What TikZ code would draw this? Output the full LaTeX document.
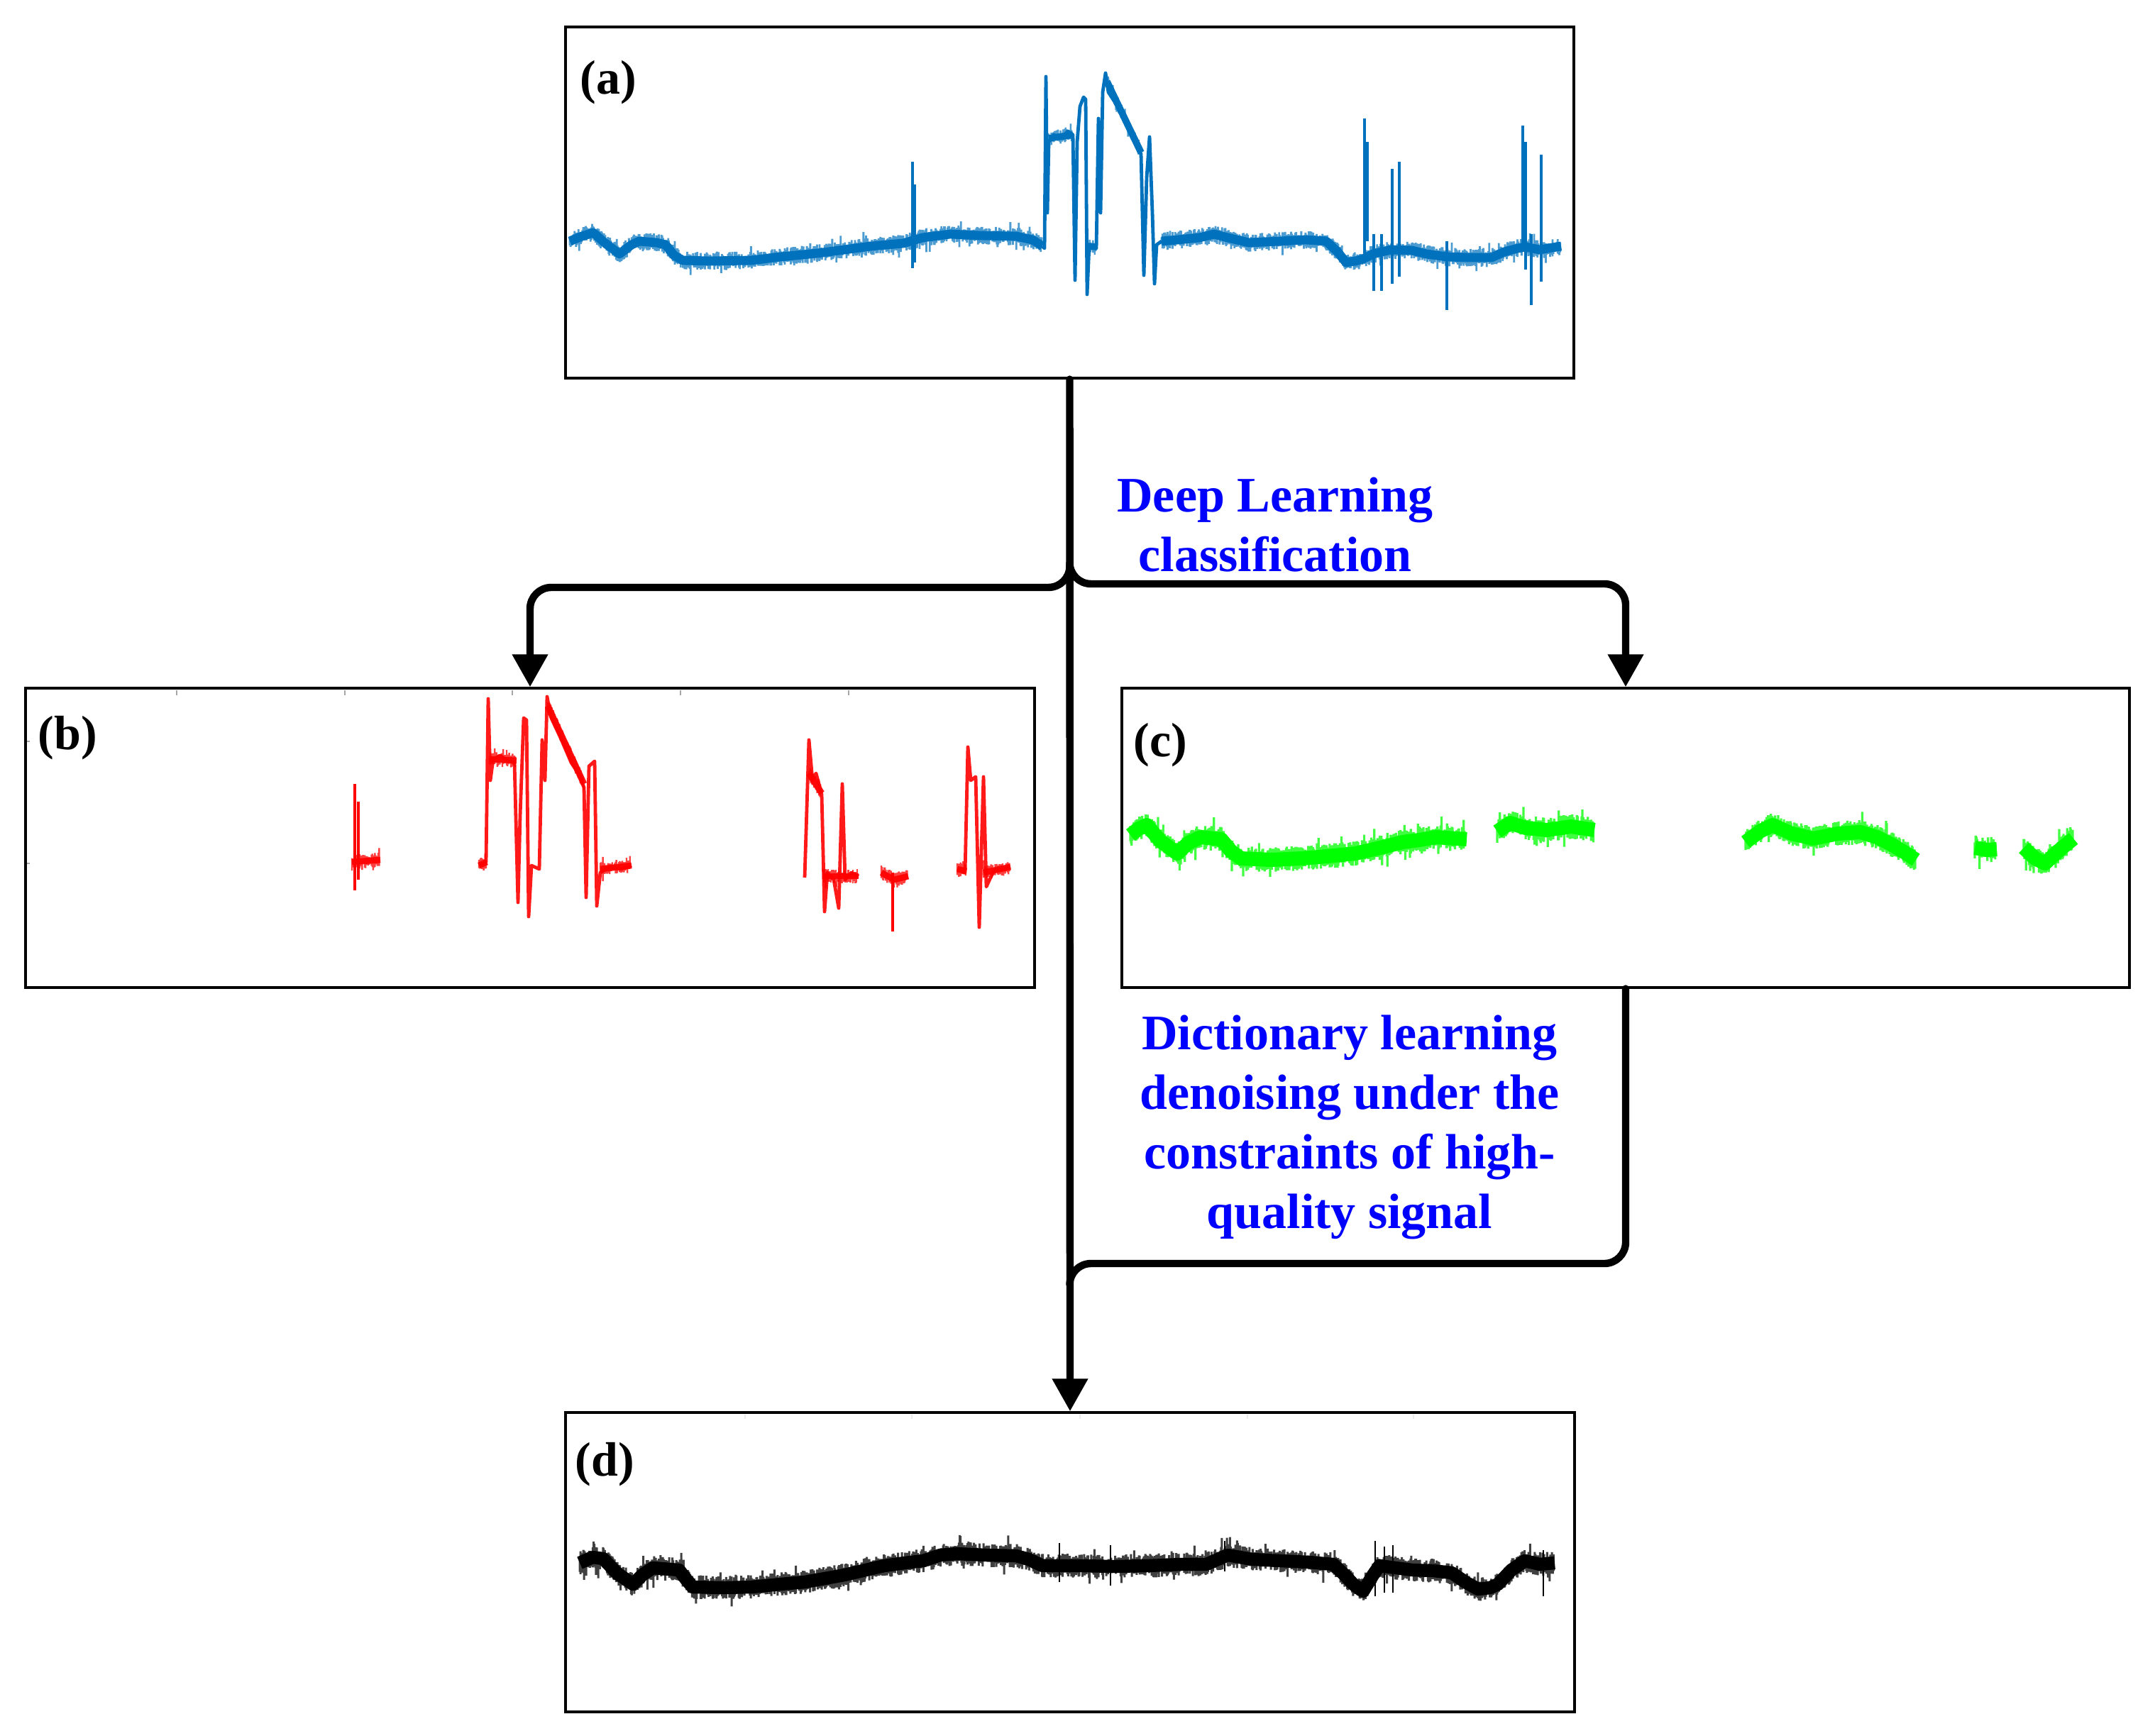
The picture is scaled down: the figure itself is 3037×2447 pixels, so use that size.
\documentclass[tikz,border=0pt]{standalone}
\usepackage{fontspec}
\setmainfont{Liberation Serif}
\usetikzlibrary{arrows.meta,decorations.pathmorphing,calc}
\definecolor{mblue}{RGB}{0,114,189}
\definecolor{lblue}{RGB}{0,0,255}
\definecolor{tgreen}{RGB}{0,255,0}
\definecolor{tred}{RGB}{255,0,0}
\pgfdeclaredecoration{fuzz}{initial}{
  \state{initial}[width=\pgfdecorationsegmentlength]{
    \pgfmathsetlengthmacro\fuzza{\pgfdecorationsegmentamplitude*(0.2+0.8*rnd+0.7*(rnd>0.97))}
    \pgfmathsetlengthmacro\fuzzb{\pgfdecorationsegmentamplitude*(0.2+0.8*rnd+0.7*(rnd>0.97))}
    \pgfmathsetmacro\fuzzs{sin(\pgfdecoratedangle)}
    \pgfmathsetmacro\fuzzc{cos(\pgfdecoratedangle)}
    \pgfpathmoveto{\pgfpoint{\fuzzs*\fuzza}{\fuzzc*\fuzza}}
    \pgfpathlineto{\pgfpoint{-\fuzzs*\fuzzb}{-\fuzzc*\fuzzb}}
  }
  \state{final}{}
}
\begin{document}
\begin{tikzpicture}[x=0.25pt,y=-0.25pt,
  panel/.style={draw=black, line width=0.8pt, inner sep=0pt, minimum height=105.5pt},
  conn/.style={line width=2.6pt, line cap=round, rounded corners=7.5pt},
  arr/.style={-{Triangle[width=12pt,length=11.5pt]}},
  txt/.style={font=\fontsize{17.5}{21}\selectfont\bfseries, text=lblue, align=center, inner sep=0pt},
  plbl/.style={font=\fontsize{17}{20}\selectfont\bfseries, inner sep=0pt, anchor=base west},
  fzA/.style={decorate, decoration={fuzz, segment length=0.3pt, amplitude=3.2pt}},
  fzG/.style={decorate, decoration={fuzz, segment length=0.28pt, amplitude=4.4pt}},
  fzD/.style={decorate, decoration={fuzz, segment length=0.28pt, amplitude=4.2pt}},
  fzR/.style={decorate, decoration={fuzz, segment length=0.3pt, amplitude=2.6pt}},
  spike/.style={line width=0.8pt}
]
\pgfmathsetseed{4242}
\useasboundingbox (0,0) rectangle (3037,2447);

% ---------- trace (a) ----------
\def\aone{(803,340) -- (820,333) -- (836,328) -- (852,342) -- (873,358) -- (890,345) -- (901,340) -- (925,342) -- (938,345) -- (950,360) -- (962,367) -- (1000,368) -- (1059,367) -- (1100,362) -- (1152,357) -- (1190,352) -- (1227,347) -- (1273,343) -- (1300,335) -- (1339,330) -- (1380,332) -- (1432,333) -- (1455,338) -- (1469,347)}
\def\atwo{(1637,340) -- (1660,338) -- (1690,335) -- (1711,330) -- (1730,335) -- (1760,342) -- (1804,340) -- (1840,338) -- (1869,340) -- (1885,355) -- (1897,370) -- (1910,368) -- (1921,365) -- (1935,358) -- (1960,352) -- (1990,353) -- (2010,358) -- (2039,362) -- (2070,363) -- (2102,363) -- (2120,355) -- (2139,350) -- (2150,348) -- (2170,352) -- (2200,347)}
\foreach \p in {\aone,\atwo}{
  \draw[mblue, line width=3.2pt, line join=round] \p;
  \draw[mblue, line width=0.7pt, opacity=0.7, fzA] \p;
}
\draw[mblue, line width=1.2pt, line join=round] (1469,347) -- (1472,350) -- (1474,108) -- (1476,300) -- (1478,200) -- (1485,190) -- (1495,195) -- (1505,185) -- (1512,190) -- (1515,395) -- (1518,200) -- (1522,150) -- (1527,137) -- (1530,140) -- (1532,415) -- (1535,345) -- (1545,350) -- (1548,167) -- (1551,300) -- (1554,130) -- (1558,103) -- (1562,130) -- (1575,150) -- (1590,180) -- (1600,203) -- (1608,217) -- (1612,388) -- (1616,250) -- (1620,193) -- (1624,300) -- (1627,400) -- (1630,345) -- (1637,340);
\foreach \p in {{(1478,195) -- (1512,190)}, {(1560,115) -- (1608,215)}, {(1532,347) -- (1546,348)}}{
  \draw[mblue, line width=2.4pt] \p;
  \draw[mblue, line width=0.6pt, opacity=0.7, fzR] \p;
}
\foreach \x/\ya/\yb in {1286/228/378, 1289/260/370, 1923/167/360, 1927/200/340, 1936/330/410, 1947/330/410, 1962/238/400, 1972/228/390, 2039/340/437, 2146/177/355, 2150/200/380, 2158/330/430, 2172/218/397}
  \draw[mblue, spike] (\x,\ya) -- (\x,\yb);

% ---------- trace (b) ----------
\draw[tred, line width=1.2pt, line join=round, opacity=0.9] (675,1220) -- (685,1215) -- (688,985) -- (691,1100) -- (695,1070) -- (705,1065) -- (715,1072) -- (725,1075) -- (730,1272) -- (733,1150) -- (738,1012) -- (742,1015) -- (745,1292) -- (749,1220) -- (760,1225) -- (764,1043) -- (768,1100) -- (771,982) -- (776,1010) -- (790,1040) -- (805,1075) -- (815,1090) -- (823,1110) -- (826,1265) -- (830,1080) -- (838,1073) -- (841,1277) -- (846,1230) -- (860,1222) -- (875,1225) -- (890,1220);
\draw[tred, line width=1.2pt, line join=round, opacity=0.9] (1134,1237) -- (1140,1043) -- (1145,1100) -- (1150,1090) -- (1158,1120) -- (1162,1285) -- (1166,1230) -- (1175,1240) -- (1182,1280) -- (1187,1105) -- (1191,1240) -- (1200,1230) -- (1210,1235);
\draw[tred, line width=1.2pt, line join=round, opacity=0.9] (1349,1225) -- (1360,1230) -- (1364,1053) -- (1368,1100) -- (1375,1095) -- (1380,1307) -- (1386,1095) -- (1390,1250) -- (1400,1228) -- (1424,1222);
\foreach \p in {{(496,1215) -- (536,1212)}, {(690,1070) -- (728,1072)}, {(772,995) -- (823,1105)}, {(846,1225) -- (890,1220)}, {(675,1220) -- (686,1215)}, {(1160,1235) -- (1210,1235)}, {(1242,1230) -- (1260,1240) -- (1280,1235)}, {(1349,1225) -- (1362,1228)}, {(1386,1230) -- (1424,1222)}, {(1140,1090) -- (1158,1118)}}{
  \draw[tred, line width=2.2pt, opacity=0.9] \p;
  \draw[tred, line width=0.6pt, opacity=0.75, fzR] \p;
}
\draw[tred, spike] (500,1105) -- (500,1255);
\draw[tred, spike] (505,1130) -- (505,1240);
\draw[tred, spike] (1258,1230) -- (1258,1313);

% ---------- trace (c) ----------
\def\cone{(1593,1177) -- (1605,1168) -- (1616,1163) -- (1635,1185) -- (1659,1203) -- (1675,1188) -- (1692,1180) -- (1721,1183) -- (1735,1200) -- (1749,1210) -- (1790,1212) -- (1834,1210) -- (1870,1207) -- (1910,1203) -- (1945,1195) -- (1977,1187) -- (2000,1184) -- (2024,1180) -- (2067,1183)}
\def\ctwo{(2110,1172) -- (2128,1160) -- (2150,1167) -- (2180,1170) -- (2214,1165) -- (2247,1170)}
\def\cthree{(2460,1187) -- (2480,1172) -- (2498,1163) -- (2525,1175) -- (2555,1182) -- (2590,1175) -- (2622,1173) -- (2645,1180) -- (2665,1190) -- (2685,1202) -- (2700,1212)}
\def\cfour{(2783,1195) -- (2800,1198) -- (2814,1197)}
\def\cfive{(2852,1195) -- (2868,1210) -- (2882,1217) -- (2900,1200) -- (2922,1182)}
\foreach \p in {\cone,\ctwo,\cthree,\cfour,\cfive}{
  \draw[tgreen, line width=5pt, line join=round] \p;
  \draw[tgreen, line width=0.8pt, opacity=0.75, fzG] \p;
}

% ---------- trace (d) ----------
\def\dpath{(817,2203) -- (835,2195) -- (850,2197) -- (870,2218) -- (892,2233) -- (905,2220) -- (920,2210) -- (957,2213) -- (966,2225) -- (976,2237) -- (1020,2238) -- (1059,2237) -- (1100,2233) -- (1134,2230) -- (1190,2220) -- (1246,2207) -- (1275,2203) -- (1301,2200) -- (1325,2192) -- (1348,2190) -- (1390,2192) -- (1432,2193) -- (1450,2198) -- (1469,2207) -- (1525,2207) -- (1570,2208) -- (1618,2207) -- (1665,2205) -- (1700,2205) -- (1730,2192) -- (1765,2198) -- (1804,2200) -- (1845,2202) -- (1879,2205) -- (1895,2220) -- (1907,2233) -- (1921,2243) -- (1935,2220) -- (1944,2207) -- (1990,2213) -- (2020,2214) -- (2046,2217) -- (2065,2230) -- (2083,2240) -- (2100,2238) -- (2111,2233) -- (2130,2213) -- (2149,2200) -- (2170,2205) -- (2191,2203)}
\draw[black, line width=4.6pt, line join=round] \dpath;
\draw[black, line width=0.75pt, opacity=0.75, fzD] \dpath;
\foreach \x/\ya/\yb in {1493/2175/2230, 1565/2178/2235, 1726/2172/2215, 1938/2172/2250, 1951/2180/2245, 1963/2178/2245, 2175/2185/2250}
  \draw[black, line width=0.6pt] (\x,\ya) -- (\x,\yb);

% ---------- axis ticks ----------
\foreach \x in {249,486,722,959,1196} \draw[gray!70, line width=0.5pt] (\x,973) -- (\x,980);
\foreach \y in {1045,1217} \draw[gray!70, line width=0.5pt] (37,\y) -- (42,\y);
\foreach \x in {1050,1285,1522,1758,1992} \draw[gray!15, line width=0.5pt] (\x,1994) -- (\x,2000);

% ---------- panels ----------
\node[panel, minimum width=355.25pt, minimum height=123.75pt] (a) at (1507.5,285.5) {};
\node[panel, minimum width=355.5pt] (b) at (747,1181) {};
\node[panel, minimum width=355pt] (c) at (2291,1181) {};
\node[panel, minimum width=355.5pt] (d) at (1508,2202) {};

\node[plbl] (la) at (817,133) {(a)};
\node[plbl] (lb) at (53,1057) {(b)};
\node[plbl] (lc) at (1597,1067) {(c)};
\node[plbl] (ld) at (810,2080) {(d)};

% ---------- connectors ----------
\coordinate (jl) at (1507.5,797);
\coordinate (jr) at (1507.5,793);
\coordinate (jb) at (1507.5,1811);
\draw[conn, arr] (a.south) -- (d.north);
\draw[conn, arr] (jl) -- (1507.5,828) -| (b.north);
\draw[conn, arr] (jr) -- (1507.5,823) -| (c.north);
\draw[conn] (c.south) |- (1507.5,1781) -- (jb);

% ---------- labels ----------
\node[txt, anchor=base] (t1) at (1797,806) {Deep Learning\\classification};
\node[txt, anchor=base] (t2) at (1902,1731) {Dictionary learning\\denoising under the\\constraints of high-\\quality signal};
\end{tikzpicture}
\end{document}
